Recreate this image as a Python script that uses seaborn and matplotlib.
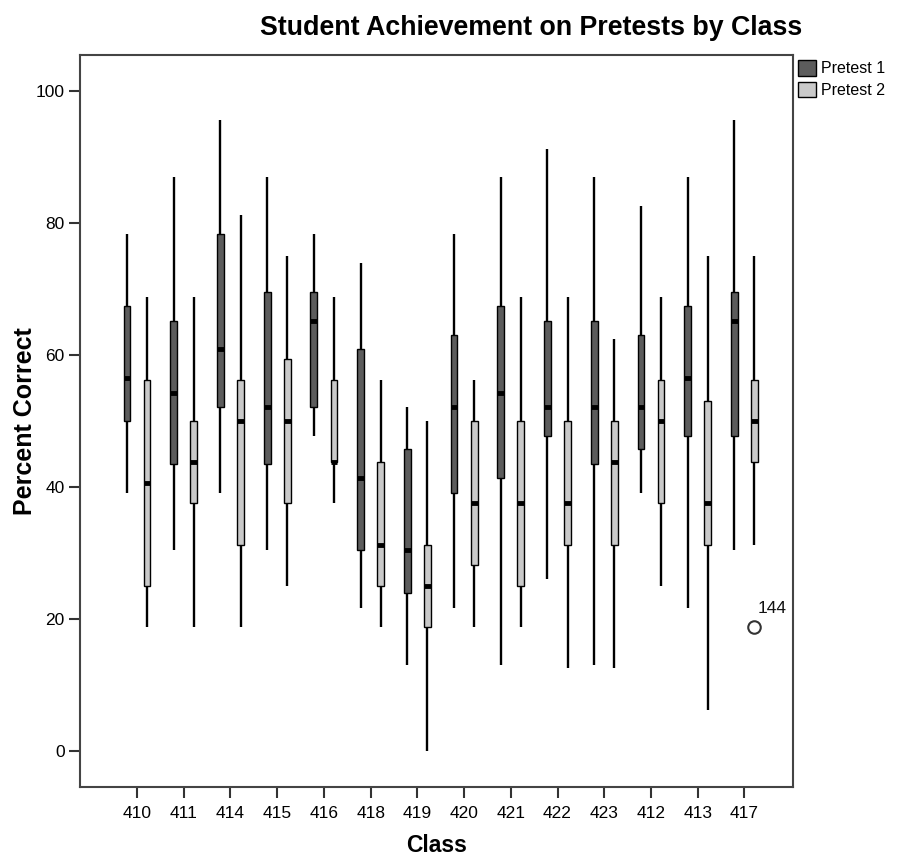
import pandas as pd
import matplotlib
matplotlib.use("Agg")
import matplotlib.pyplot as plt
from matplotlib.patches import Patch
import seaborn as sns

# Classes in the order they appear on the x axis
classes = ["410", "411", "414", "415", "416", "418", "419", "420",
           "421", "422", "423", "412", "413", "417"]

# Five-number summaries (percent correct)
p1_min = [39.1, 30.4, 39.1, 30.4, 47.8, 21.7, 13.0, 21.7, 13.0, 26.1, 13.0, 39.1, 21.7, 30.4]
p1_q1 = [50.0, 43.5, 52.2, 43.5, 52.2, 30.4, 23.9, 39.1, 41.3, 47.8, 43.5, 45.7, 47.8, 47.8]
p1_med = [56.5, 54.3, 60.9, 52.2, 65.2, 41.3, 30.4, 52.2, 54.3, 52.2, 52.2, 52.2, 56.5, 65.2]
p1_q3 = [67.4, 65.2, 78.3, 69.6, 69.6, 60.9, 45.7, 63.0, 67.4, 65.2, 65.2, 63.0, 67.4, 69.6]
p1_max = [78.3, 87.0, 95.7, 87.0, 78.3, 73.9, 52.2, 78.3, 87.0, 91.3, 87.0, 82.6, 87.0, 95.7]

p2_min = [18.75, 18.75, 18.75, 25.0, 37.5, 18.75, 0.0, 18.75, 18.75, 12.5, 12.5, 25.0, 6.25, 31.25]
p2_q1 = [25.0, 37.5, 31.25, 37.5, 43.75, 25.0, 18.75, 28.1, 25.0, 31.25, 31.25, 37.5, 31.25, 43.75]
p2_med = [40.6, 43.75, 50.0, 50.0, 43.75, 31.25, 25.0, 37.5, 37.5, 37.5, 43.75, 50.0, 37.5, 50.0]
p2_q3 = [56.25, 50.0, 56.25, 59.4, 56.25, 43.75, 31.25, 50.0, 50.0, 50.0, 50.0, 56.25, 53.1, 56.25]
p2_max = [68.75, 68.75, 81.25, 75.0, 68.75, 56.25, 50.0, 56.25, 68.75, 68.75, 62.5, 68.75, 75.0, 75.0]

# Outlier (case 144)
out_class = ["417"]
out_test = ["Pretest 2"]
out_value = [18.75]
out_label = ["144"]

tests = ["Pretest 1", "Pretest 2"]
colors = {"Pretest 1": "#5c5c5c", "Pretest 2": "#c9c9c9"}

rows = []
for i, c in enumerate(classes):
    for v in [p1_min[i], p1_q1[i], p1_med[i], p1_q3[i], p1_max[i]]:
        rows.append({"Class": c, "Test": "Pretest 1", "Score": v})
    for v in [p2_min[i], p2_q1[i], p2_med[i], p2_q3[i], p2_max[i]]:
        rows.append({"Class": c, "Test": "Pretest 2", "Score": v})
df = pd.DataFrame(rows)

sns.set_style("white")
plt.rcParams["font.family"] = ["Liberation Sans", "DejaVu Sans"]
plt.rcParams["text.color"] = "black"
plt.rcParams["axes.labelcolor"] = "black"
plt.rcParams["xtick.color"] = "black"
plt.rcParams["ytick.color"] = "black"

fig = plt.figure(figsize=(8.98, 8.61), dpi=100)
ax = fig.add_axes([0.0891, 0.0859, 0.794, 0.8502])

box_width = 0.86
sns.boxplot(data=df, x="Class", y="Score", hue="Test", order=classes,
            hue_order=tests, palette=colors, width=box_width, gap=0.66,
            whis=(0, 100), linecolor="black", linewidth=1.0, showcaps=False,
            whiskerprops=dict(linewidth=1.7),
            medianprops=dict(linewidth=3.5, solid_capstyle="butt"),
            ax=ax, legend=False)

# outlier marker and its case label
for c, t, v, lab in zip(out_class, out_test, out_value, out_label):
    xpos = classes.index(c) + (box_width / 4 if t == "Pretest 2" else -box_width / 4)
    ax.plot([xpos], [v], marker="o", markersize=9, markerfacecolor="white",
            markeredgecolor="#333333", markeredgewidth=1.5, linestyle="none")
    ax.annotate(lab, (xpos, v), xytext=(2, 10), textcoords="offset points",
                fontsize=12.5, color="#111111")

ax.set_xlim(-1.22, 14.04)
ax.set_ylim(-5.5, 105.5)
ax.set_yticks([0, 20, 40, 60, 80, 100])
ax.tick_params(axis="both", direction="out", length=8, width=1.5,
               color="#333333", labelcolor="black", labelsize=12.5,
               left=True, bottom=True)
ax.tick_params(axis="x", pad=6)
ax.tick_params(axis="y", pad=3)
for s in ax.spines.values():
    s.set_color("#444444")
    s.set_linewidth(1.5)

ax.set_xlabel("Class", fontsize=16.5, fontweight="bold", labelpad=9)
ax.set_ylabel("Percent Correct", fontsize=18, fontweight="bold")
ax.yaxis.set_label_coords(-0.06, 0.5)
fig.text(0.592, 0.967, "Student Achievement on Pretests by Class",
         ha="center", va="center", fontsize=19.3, fontweight="bold")

handles = [Patch(facecolor=colors[t], edgecolor="black", label=t) for t in tests]
ax.legend(handles=handles, loc="upper left", bbox_to_anchor=(0.889, 0.93),
          bbox_transform=fig.transFigure, frameon=False, fontsize=11.5,
          handlelength=1.1, handleheight=1.1, handletextpad=0.3,
          labelspacing=0.35, borderaxespad=0, borderpad=0)

plt.savefig("out.png", dpi=100)
